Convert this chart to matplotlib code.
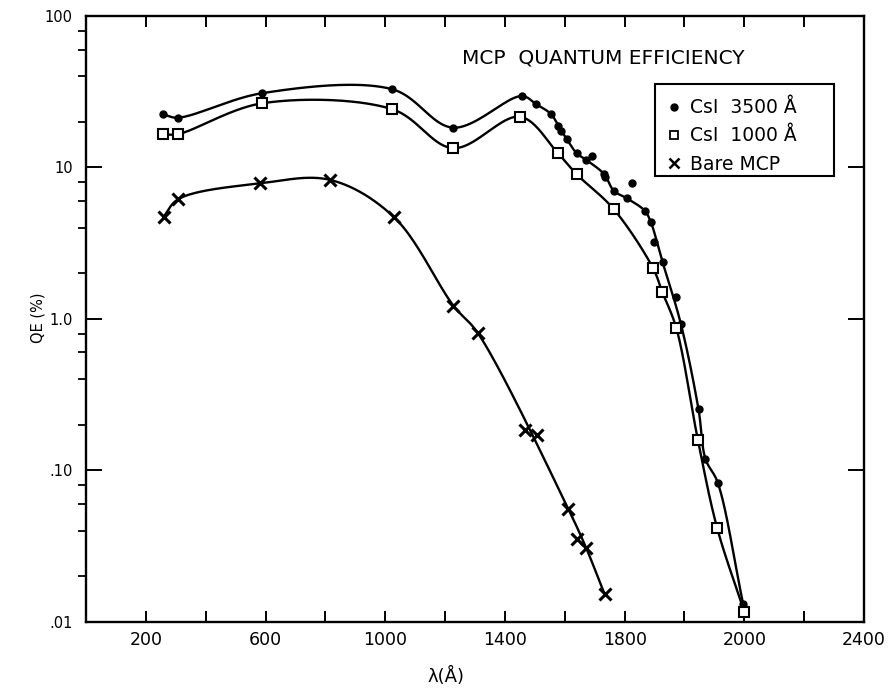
import numpy as np
import matplotlib
matplotlib.use("Agg")
import matplotlib.pyplot as plt
from matplotlib.lines import Line2D
from matplotlib.patches import Rectangle
from matplotlib.ticker import LogLocator, NullFormatter, FixedLocator

# wavelength (A, position along the axis) and quantum efficiency (%)
csi3500_wl = [257, 306, 588, 1024, 1227, 1456, 1504, 1554, 1579, 1588, 1607,
              1640, 1672, 1691, 1731, 1735, 1764, 1808, 1826, 1867, 1887,
              1898, 1927, 1973, 1988, 2047, 2070, 2111, 2196]
csi3500_qe = [22.4, 21.3, 30.9, 32.8, 18.3, 29.6, 26.2, 22.5, 18.8, 17.5, 15.3,
              12.4, 11.2, 11.96, 9.04, 8.6, 7.0, 6.25, 7.93, 5.18, 4.38,
              3.23, 2.36, 1.39, 0.925, 0.252, 0.119, 0.083, 0.0131]

csi1000_wl = [257, 308, 588, 1024, 1227, 1451, 1577, 1640, 1764, 1895, 1926,
              1973, 2045, 2109, 2200]
csi1000_qe = [16.5, 16.6, 26.5, 24.2, 13.4, 21.6, 12.4, 9.0, 5.29, 2.16, 1.50,
              0.865, 0.158, 0.0417, 0.0116]

bare_wl = [259, 309, 583, 817, 1030, 1228, 1310, 1467, 1508, 1612, 1642,
           1672, 1733]
bare_qe = [4.72, 6.18, 7.85, 8.26, 4.68, 1.22, 0.802, 0.184, 0.172, 0.0554,
           0.0351, 0.0305, 0.0152]

# scattered points that the hand-drawn curves pass beside, not through
csi3500_off_curve = [1588, 1691, 1735, 1826, 1898, 1973]
csi1000_off_curve = []
bare_off_curve = [1467, 1508, 1642]

x_tick_pos = [200, 600, 1000, 1400, 1800, 2200, 2600]
x_tick_text = ["200", "600", "1000", "1400", "1800", "2000", "2400"]
y_tick_pos = [0.01, 0.1, 1, 10, 100]
y_tick_text = [".01", ".10", "1.0", "10", "100"]


def smooth_curve(x, y, skip=(), n=40):
    """Centripetal Catmull-Rom through the points (x linear, y log),
    worked out in roughly screen-shaped units so the bends look right."""
    pts = [(a, b) for a, b in zip(x, y) if a not in skip]
    x = np.array([p[0] for p in pts], float)
    y = np.array([p[1] for p in pts], float)
    sx, sy = 778 / 2600, 151.4
    P = np.column_stack([x * sx, np.log10(y) * sy])
    P = np.vstack([2 * P[0] - P[1], P, 2 * P[-1] - P[-2]])
    out = []
    for i in range(1, len(P) - 2):
        p0, p1, p2, p3 = P[i - 1:i + 3]
        t0 = 0.0
        t1 = t0 + np.linalg.norm(p1 - p0) ** 0.5
        t2 = t1 + np.linalg.norm(p2 - p1) ** 0.5
        t3 = t2 + np.linalg.norm(p3 - p2) ** 0.5
        t = np.linspace(t1, t2, n, endpoint=False)[:, None]
        a1 = (t1 - t) / (t1 - t0) * p0 + (t - t0) / (t1 - t0) * p1
        a2 = (t2 - t) / (t2 - t1) * p1 + (t - t1) / (t2 - t1) * p2
        a3 = (t3 - t) / (t3 - t2) * p2 + (t - t2) / (t3 - t2) * p3
        b1 = (t2 - t) / (t2 - t0) * a1 + (t - t0) / (t2 - t0) * a2
        b2 = (t3 - t) / (t3 - t1) * a2 + (t - t1) / (t3 - t1) * a3
        out.append((t2 - t) / (t2 - t1) * b1 + (t - t1) / (t2 - t1) * b2)
    out.append(P[-2][None, :])
    c = np.vstack(out)
    return c[:, 0] / sx, 10 ** (c[:, 1] / sy)


plt.rcParams["font.family"] = ["DejaVu Sans"]

fig = plt.figure(figsize=(8.96, 6.95), dpi=100)
ax = fig.add_axes([0.096, 0.1055, 0.8683, 0.8715])

# curves
ax.plot(*smooth_curve(csi3500_wl, csi3500_qe, csi3500_off_curve), color="black", lw=1.7)
ax.plot(*smooth_curve(csi1000_wl, csi1000_qe, csi1000_off_curve), color="black", lw=1.7)
ax.plot(*smooth_curve(bare_wl, bare_qe, bare_off_curve), color="black", lw=1.7)

# data points
ax.plot(csi3500_wl, csi3500_qe, "o", color="black", ms=5, ls="none")
ax.plot(csi1000_wl, csi1000_qe, "s", mfc="white", mec="black", mew=1.5, ms=6.5, ls="none")
ax.plot(bare_wl, bare_qe, "x", color="black", mew=2.2, ms=9, ls="none")

ax.set_yscale("log")
ax.set_xlim(0, 2600)
ax.set_ylim(0.01, 100)

ax.set_xticks(np.arange(200, 2601, 200))
ax.set_xticklabels([x_tick_text[x_tick_pos.index(v)] if v in x_tick_pos else ""
                    for v in range(200, 2601, 200)])
ax.yaxis.set_major_locator(FixedLocator(y_tick_pos))
ax.set_yticklabels(y_tick_text)
ax.yaxis.set_minor_locator(LogLocator(base=10, subs=(2, 4, 6, 8)))
ax.yaxis.set_minor_formatter(NullFormatter())

ax.tick_params(direction="in", top=True, right=True, width=1.4, color="black")
ax.tick_params(axis="x", which="major", length=8, labelsize=12.5, pad=7)
ax.tick_params(axis="y", which="major", length=11.5, labelsize=10.5, pad=9.5)
ax.tick_params(axis="y", which="minor", length=5.8, width=1.3)
for s in ax.spines.values():
    s.set_linewidth(1.7)

fig.text(462 / 896, 1 - 58 / 695, "MCP  QUANTUM EFFICIENCY", fontsize=14.5,
         ha="left", va="center")
fig.text(446 / 896, 1 - 676 / 695, "λ(Å)", fontsize=13, ha="center", va="center")
fig.text(38 / 896, 1 - 318 / 695, "QE (%)", fontsize=10.5, rotation=90,
         ha="center", va="center")

handles = [
    Line2D([], [], marker="o", color="black", ms=5, ls="none"),
    Line2D([], [], marker="s", mfc="white", mec="black", mew=1.3, ms=6, ls="none"),
    Line2D([], [], marker="x", color="black", mew=1.8, ms=6.5, ls="none"),
]
ax.legend(handles, ["CsI  3500 Å", "CsI  1000 Å", "Bare MCP"],
          loc="upper left", bbox_to_anchor=(0.731, 0.8877), borderaxespad=0,
          fontsize=13.5, frameon=False, handlelength=0.6, handletextpad=0.55,
          borderpad=0.75, labelspacing=0.5)
# legend box, drawn by hand so it hugs the rows like the original
fig.patches.append(Rectangle((655 / 896, 1 - 176 / 695), 179 / 896, 92 / 695,
                             transform=fig.transFigure, fill=False,
                             edgecolor="black", lw=1.5))

fig.savefig("out.png", dpi=100)
